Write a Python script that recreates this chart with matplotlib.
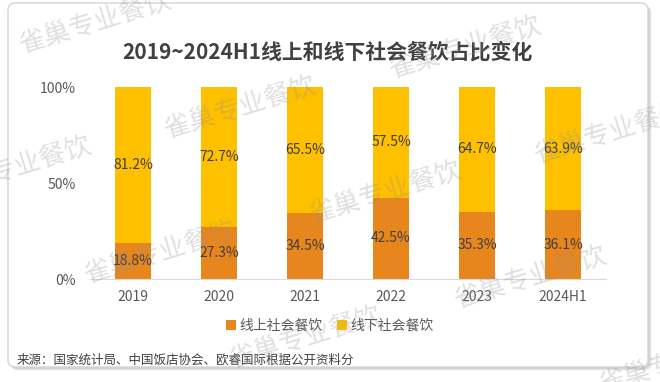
import matplotlib.pyplot as plt
from matplotlib.patches import FancyBboxPatch
from matplotlib.transforms import IdentityTransform

plt.rcParams['font.family'] = ['Noto Sans CJK SC', 'DejaVu Sans']

years = ['2019', '2020', '2021', '2022', '2023', '2024H1']
online = [18.8, 27.3, 34.5, 42.5, 35.3, 36.1]
offline = [81.2, 72.7, 65.5, 57.5, 64.7, 63.9]
yticks = [0, 50, 100]
ytick_labels = ['0%', '50%', '100%']

c_online = '#E8861E'
c_offline = '#FFC000'
txt_gray = '#595959'
lbl_color = '#404040'

fig = plt.figure(figsize=(6.6, 3.82), dpi=100)
fig.patch.set_facecolor('white')

# card background with a soft shadow (display pixel coords)
for off, a in [(4, 0.10), (3, 0.15), (2, 0.25)]:
    sh = FancyBboxPatch((8 + off, 15 - off), 640, 364,
                        boxstyle='round,pad=0,rounding_size=7',
                        transform=IdentityTransform(), facecolor='#9a9a9a',
                        edgecolor='none', alpha=a, zorder=-12)
    fig.patches.append(sh)
card = FancyBboxPatch((8, 15), 640, 364, boxstyle='round,pad=0,rounding_size=7',
                      transform=IdentityTransform(), facecolor='white',
                      edgecolor='#d4d4d4', linewidth=1, zorder=-10)
fig.patches.append(card)

ax = fig.add_axes([0.1364, 0.2689, 0.7818, 0.5026])
ax.patch.set_alpha(0)
x = list(range(len(years)))
w = 0.41
b1 = ax.bar(x, online, width=w, color=c_online, label='线上社会餐饮')
b2 = ax.bar(x, offline, width=w, bottom=online, color=c_offline, label='线下社会餐饮')

for i in x:
    ax.text(i, online[i] / 2, f'{online[i]:.1f}%', ha='center', va='center',
            fontsize=10, color=lbl_color)
    ax.text(i, online[i] + offline[i] / 2, f'{offline[i]:.1f}%', ha='center',
            va='center', fontsize=10, color=lbl_color)

ax.set_xlim(-0.5, len(years) - 0.5)
ax.set_ylim(0, 100)
ax.set_yticks(yticks)
ax.set_yticklabels(ytick_labels)
ax.set_xticks(x)
ax.set_xticklabels(years)
ax.tick_params(axis='both', length=0, labelsize=10, labelcolor=txt_gray)
ax.tick_params(axis='y', pad=10)
ax.tick_params(axis='x', pad=8)
for s in ['top', 'right', 'left']:
    ax.spines[s].set_visible(False)
ax.spines['bottom'].set_color('#d9d9d9')

fig.text(0.496, 0.864, '2019~2024H1线上和线下社会餐饮占比变化', ha='center',
         va='center', fontsize=15, fontweight='bold', color='#404040')

fig.legend(handles=[b1, b2], loc='center', bbox_to_anchor=(0.5, 0.147), ncol=2,
           frameon=False, fontsize=10, labelcolor=txt_gray, handlelength=0.7,
           handleheight=0.7, handletextpad=0.3, columnspacing=1.0)

fig.text(17 / 660, 1 - 360 / 382, '来源：国家统计局、中国饭店协会、欧睿国际根据公开资料分',
         ha='left', va='center', fontsize=9, color=lbl_color)

# tiled watermark
for n in range(-1, 5):
    for m in range(-1, 2):
        px = 95 + 370 * m + 145 * n
        py = 22 + 25 * m + 85 * n
        if -120 < px < 780 and -60 < py < 440:
            fig.text(px / 660, 1 - py / 382, '雀巢专业餐饮', ha='center', va='center',
                     rotation=17, rotation_mode='anchor', fontsize=19,
                     color='#909090', alpha=0.28, zorder=20)

fig.savefig('out.png', dpi=100)
